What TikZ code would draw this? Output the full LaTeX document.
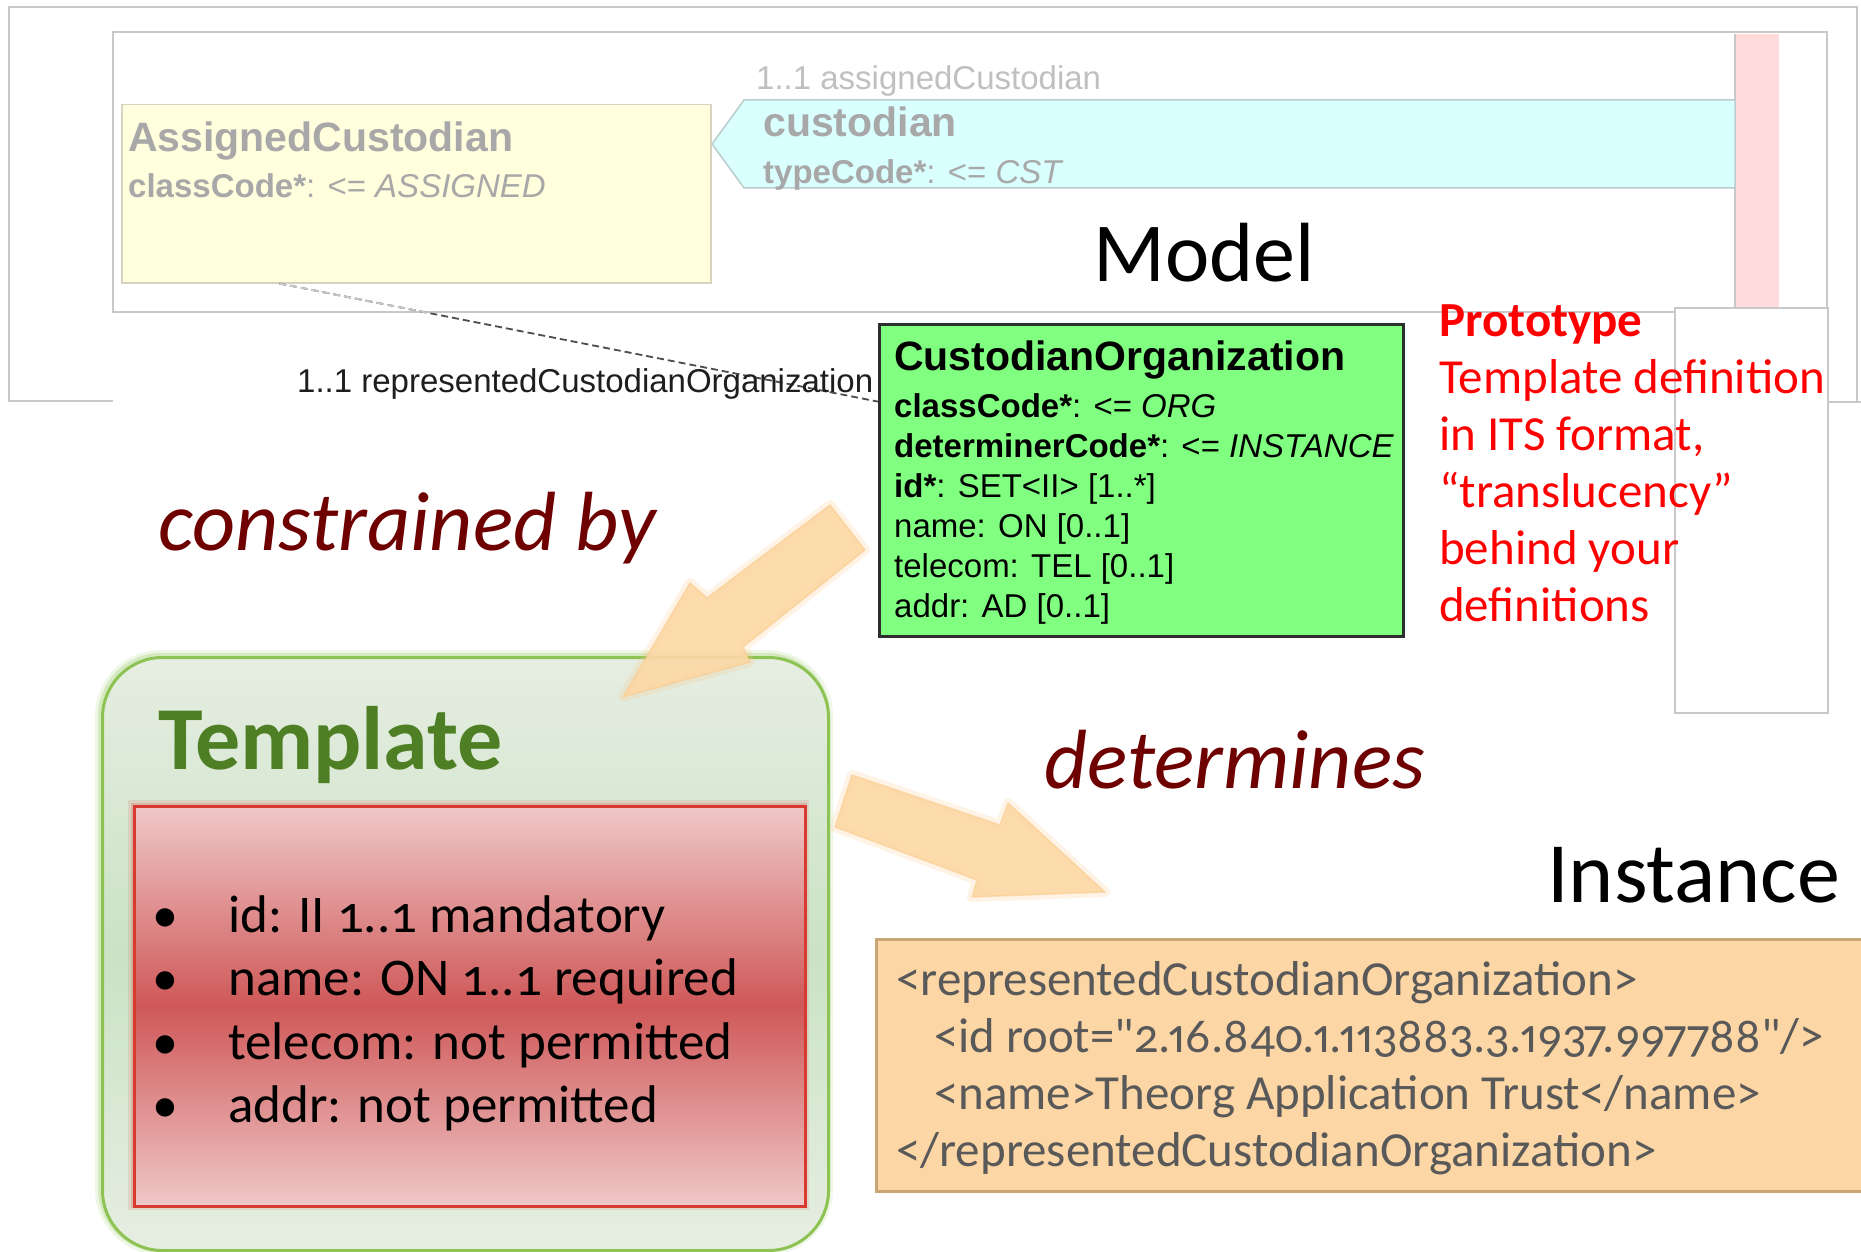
\documentclass[tikz,border=0pt]{standalone}
\usepackage{fontspec}
\usepackage{graphicx}
\setmainfont[Numbers=OldStyle]{Carlito}
\newfontfamily\umlfont{Liberation Sans}
\newfontfamily\xmlfont[Numbers={OldStyle,Proportional}, Ligatures=TeXOff]{Carlito}
\usetikzlibrary{calc}

% palette
\definecolor{framegray}{RGB}{200,200,200}
\definecolor{classyellow}{RGB}{255,254,221}
\definecolor{yellowedge}{RGB}{212,212,192}
\definecolor{assoccyan}{RGB}{217,255,255}
\definecolor{cyanedge}{RGB}{186,204,204}
\definecolor{stripepink}{RGB}{255,219,219}
\definecolor{fadedtext}{RGB}{168,168,168}
\definecolor{fadedlabel}{RGB}{192,192,192}
\definecolor{classgreen}{RGB}{128,255,128}
\definecolor{darkedge}{RGB}{45,45,45}
\definecolor{labeltext}{RGB}{30,30,30}
\definecolor{verbred}{RGB}{110,0,0}
\definecolor{tplgreen}{RGB}{78,127,36}
\definecolor{tpledge}{RGB}{141,195,83}
\definecolor{tpltop}{RGB}{230,238,226}
\definecolor{tplmid}{RGB}{203,226,197}
\definecolor{rulered}{RGB}{217,58,48}
\definecolor{ruletop}{RGB}{240,200,200}
\definecolor{rulemid}{RGB}{207,88,88}
\definecolor{instfill}{RGB}{252,214,164}
\definecolor{instedge}{RGB}{200,166,118}
\definecolor{insttext}{RGB}{89,89,89}
\definecolor{arrowfill}{RGB}{252,216,166}
\definecolor{arrowglow}{RGB}{252,196,128}

\newcommand\pxsize[1]{\fontsize{#1}{#1}\selectfont}

\begin{document}
\begin{tikzpicture}[x=1pt,y=-1pt,
  framebox/.style={draw=framegray, line width=1.6pt},
  umlname/.style={font=\umlfont\bfseries\pxsize{41}, anchor=base west, inner sep=0pt},
  umlattr/.style={font=\umlfont\pxsize{33}, anchor=base west, inner sep=0pt},
  slidetext/.style={anchor=base west, inner sep=0pt},
  redtext/.style={slidetext, text=red, font=\pxsize{49}},
  bullettext/.style={slidetext, font=\pxsize{53}},
  bulletmark/.style={slidetext, font=\pxsize{52}},
  xmltext/.style={slidetext, text=insttext, font=\xmlfont\pxsize{49}},
  verbtext/.style={slidetext, text=verbred, font=\itshape\pxsize{84}},
  blockarrow/.style={fill=arrowfill, fill opacity=0.92, draw=arrowglow, draw opacity=0.45, line width=1.5pt, line join=round},
  arrowhalo/.style={draw=arrowglow, draw opacity=0.2, line width=10pt, line join=round},
  dashlink/.style={dash pattern=on 7pt off 4pt, line width=1.8pt}
]
\useasboundingbox (0,0) rectangle (1861,1252);
\fill[white] (0,0) rectangle (1861,1252);

% ---------- model view ----------
\draw[framebox] (113,401) -- (9,401) -- (9,7) -- (1857,7) -- (1857,402);
\draw[framebox] (1827,402) -- (1861,402);
\draw[framebox] (113,32) rectangle (1827,312);

\fill[stripepink] (1735,34) rectangle (1779,307);
\draw[framegray, line width=1.5pt] (1735,34) -- (1735,307);

\node[draw=yellowedge, fill=classyellow, line width=1.5pt, minimum width=589pt,
      minimum height=178pt, inner sep=0pt, anchor=north west] (assigned) at (121,104) {};
\node[umlname, text=fadedtext] (assignedname) at (128,152) {AssignedCustodian};
\node[umlattr, text=fadedtext] (assignedattr) at (128,198) {\textbf{classCode*}: <= \textit{ASSIGNED}};

\filldraw[fill=assoccyan, draw=cyanedge, line width=1.5pt]
  (712,144) -- (744,100) -- (1735,100) -- (1735,188) -- (744,188) -- cycle;
\node[umlattr, text=fadedlabel] (assoclabel) at (756,90) {1..1 assignedCustodian};
\node[umlname, text=fadedtext] (assocname) at (763,137) {custodian};
\node[umlattr, text=fadedtext] (assocattr) at (763,184) {\textbf{typeCode*}: <= \textit{CST}};

\node[slidetext, font=\pxsize{84}] (model) at (1093,281) {Model};

% overlay box on the right
\node[draw=framegray, fill=white, line width=1.6pt, minimum width=153pt, minimum height=405pt,
      inner sep=0pt, anchor=north west] (sidebox) at (1674,307) {};

% the prototype class
\node[draw=darkedge, fill=classgreen, line width=2.5pt, minimum width=524pt, minimum height=312pt,
      inner sep=0pt, anchor=north west] (custorg) at (878,323) {};
\node[umlname] (coname) at (894,370) {CustodianOrganization};
\node[umlattr] (coattr1) at (894,417) {\textbf{classCode*}: <= \textit{ORG}};
\node[umlattr] (coattr2) at (894,457) {\textbf{determinerCode*}: <= \textit{INSTANCE}};
\node[umlattr] (coattr3) at (894,497) {\textbf{id*}: SET<II> [1..*]};
\node[umlattr] (coattr4) at (894,537) {name: ON [0..1]};
\node[umlattr] (coattr5) at (894,577) {telecom: TEL [0..1]};
\node[umlattr] (coattr6) at (894,617) {addr: AD [0..1]};

% association from AssignedCustodian to CustodianOrganization
\coordinate (linkstart) at ($(assigned.south west)!0.268!(assigned.south east)$);
\coordinate (linkend) at ($(custorg.north west)!0.25!(custorg.south west)$);
\draw[dashlink, draw=darkedge!85] (linkstart) -- (linkend);
\begin{scope}
  \clip (113,32) rectangle (1827,312);
  \draw[dashlink, draw=framegray] (linkstart) -- (linkend);
\end{scope}
\node[umlattr, text=labeltext] (linklabel) at (297,392) {1..1 representedCustodianOrganization};

% prototype note
\node[redtext, font=\bfseries\pxsize{49}] (proto0) at (1439,336) {Prototype};
\node[redtext] (proto1) at (1439,393) {Template definition};
\node[redtext] (proto2) at (1439,450) {in ITS format,};
\node[redtext] (proto3) at (1439,507) {“translucency”};
\node[redtext] (proto4) at (1439,564) {behind your};
\node[redtext] (proto5) at (1439,621) {definitions};

% ---------- template ----------
\node[verbtext] (constrained) at (158,550) {constrained by};

\draw[tpledge, draw opacity=0.15, line width=12pt, rounded corners=60pt] (101,656) rectangle (827,1249);
\draw[tpledge, draw opacity=0.25, line width=6pt, rounded corners=60pt] (101,656) rectangle (827,1249);
\node[draw=tpledge, line width=3pt, rounded corners=60pt, top color=tpltop, bottom color=tpltop,
      middle color=tplmid, minimum width=726pt, minimum height=593pt, inner sep=0pt,
      anchor=north west] (template) at (101,656) {};
\node[slidetext, text=tplgreen, font=\bfseries\pxsize{90}] (tpltitle) at (158,769) {Template};

\draw[rulered, draw opacity=0.12, line width=10pt] (133,805) rectangle (804,1205);
\draw[rulered, draw opacity=0.2, line width=5pt] (133,805) rectangle (804,1205);
\node[draw=rulered, line width=2.5pt, top color=ruletop, bottom color=ruletop, middle color=rulemid,
      minimum width=671pt, minimum height=400pt, inner sep=0pt, anchor=north west] (rules) at (133,805) {};
\foreach \y/\txt [count=\i] in {932/{id: II 1..1 mandatory}, 995/{name: ON 1..1 required},
                                1059/{telecom: not permitted}, 1122/{addr: not permitted}} {
  \node[bulletmark] (bullet\i) at (152,\y) {•};
  \node[bullettext] (rule\i) at (228,\y) {\txt};
}

% ---------- block arrows ----------
\path[arrowhalo] (830,505) -- (865,550) -- (743,647) -- (750,662) -- (623,697) -- (690,583) -- (707,598) -- cycle;
\path[blockarrow] (830,505) -- (865,550) -- (743,647) -- (750,662) -- (623,697) -- (690,583) -- (707,598) -- cycle;

\path[arrowhalo] (852,775) -- (835,827) -- (977,880) -- (972,897) -- (1105,892) -- (1008,803) -- (1000,825) -- cycle;
\path[blockarrow] (852,775) -- (835,827) -- (977,880) -- (972,897) -- (1105,892) -- (1008,803) -- (1000,825) -- cycle;

\node[verbtext] (determines) at (1044,788) {determines};

% ---------- instance ----------
\node[slidetext, font=\pxsize{86}] (instance) at (1547,902) {Instance};
\node[draw=instedge, fill=instfill, line width=2.5pt, minimum width=1000pt, minimum height=252pt,
      inner sep=0pt, anchor=north west] (instbox) at (875,938) {};
\node[xmltext] (xml1) at (896,995) {<representedCustodianOrganization>};
\node[xmltext] (xml2) at (934,1052) {\resizebox{890pt}{\height}{<id root="2.16.840.1.113883.3.1937.997788"/>}};
\node[xmltext] (xml3) at (934,1109) {<name>Theorg Application Trust</name>};
\node[xmltext] (xml4) at (896,1166) {</representedCustodianOrganization>};
\end{tikzpicture}
\end{document}
